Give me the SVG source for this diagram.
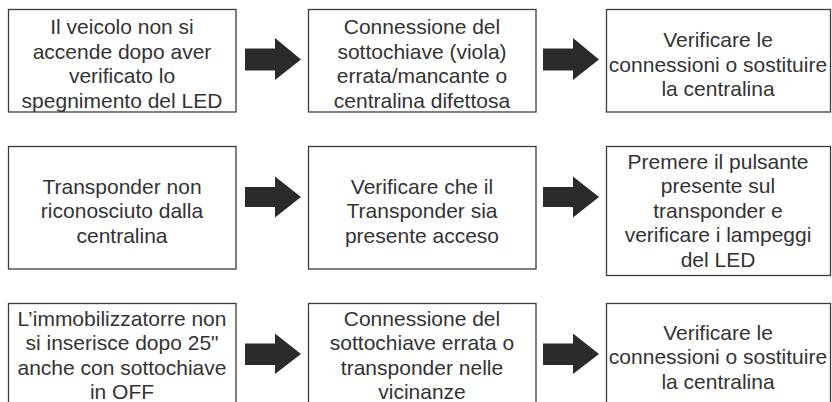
<svg xmlns="http://www.w3.org/2000/svg" width="832" height="402" viewBox="0 0 832 402">
<style>
.box{fill:#fff;stroke:#3c3c3c;stroke-width:1.3}
.t{font-family:"Liberation Sans",Arial,sans-serif;font-size:21px;fill:#333;text-anchor:middle}
.arr{fill:#2b2b2b}
</style>
<rect width="832" height="402" fill="#fff"/>
<g id="r1b1"><rect class="box" x="8.5" y="9.5" width="227.5" height="102.5"/>
<text class="t"><tspan x="122" y="34">Il veicolo non si</tspan><tspan x="122" y="58.6">accende dopo aver</tspan><tspan x="122" y="83.2">verificato lo</tspan><tspan x="122" y="107.8">spegnimento del LED</tspan></text></g>
<g id="r1b2"><rect class="box" x="308.5" y="9.5" width="227.5" height="102.5"/>
<text class="t"><tspan x="422" y="34">Connessione del</tspan><tspan x="422" y="58.6">sottochiave (viola)</tspan><tspan x="422" y="83.2">errata/mancante o</tspan><tspan x="422" y="107.8">centralina difettosa</tspan></text></g>
<g id="r1b3"><rect class="box" x="606.5" y="9.5" width="224" height="102.5"/>
<text class="t"><tspan x="718" y="47">Verificare le</tspan><tspan x="718" y="71.6">connessioni o sostituire</tspan><tspan x="718" y="96.2">la centralina</tspan></text></g>
<g id="r2b1"><rect class="box" x="8.5" y="146.5" width="227.5" height="122.5"/>
<text class="t"><tspan x="122" y="193.5">Transponder non</tspan><tspan x="122" y="218.1">riconosciuto dalla</tspan><tspan x="122" y="242.7">centralina</tspan></text></g>
<g id="r2b2"><rect class="box" x="308.5" y="146.5" width="227.5" height="122.5"/>
<text class="t"><tspan x="422" y="193.5">Verificare che il</tspan><tspan x="422" y="218.1">Transponder sia</tspan><tspan x="422" y="242.7">presente acceso</tspan></text></g>
<g id="r2b3"><rect class="box" x="606.5" y="146.5" width="224" height="129"/>
<text class="t"><tspan x="718" y="168.5">Premere il pulsante</tspan><tspan x="718" y="193.1">presente sul</tspan><tspan x="718" y="217.7">transponder e</tspan><tspan x="718" y="242.3">verificare i lampeggi</tspan><tspan x="718" y="266.9">del LED</tspan></text></g>
<g id="r3b1"><rect class="box" x="8.5" y="303.5" width="227.5" height="110"/>
<text class="t"><tspan x="122" y="325.5">L’immobilizzatorre non</tspan><tspan x="122" y="350.1">si inserisce dopo 25"</tspan><tspan x="122" y="374.7">anche con sottochiave</tspan><tspan x="122" y="399.3">in OFF</tspan></text></g>
<g id="r3b2"><rect class="box" x="308.5" y="303.5" width="227.5" height="110"/>
<text class="t"><tspan x="422" y="325.5">Connessione del</tspan><tspan x="422" y="350.1">sottochiave errata o</tspan><tspan x="422" y="374.7">transponder nelle</tspan><tspan x="422" y="399.3">vicinanze</tspan></text></g>
<g id="r3b3"><rect class="box" x="606.5" y="303.5" width="224" height="110"/>
<text class="t"><tspan x="718" y="339.5">Verificare le</tspan><tspan x="718" y="364.1">connessioni o sostituire</tspan><tspan x="718" y="388.7">la centralina</tspan></text></g>
<g id="connectors">
<polygon class="arr" points="245,48.5 275,48.5 275,38 301,59.5 275,80 275,70.5 245,70.5"/>
<polygon class="arr" points="543,48.5 573,48.5 573,38 599,59.5 573,80 573,70.5 543,70.5"/>
<polygon class="arr" points="245,187 275,187 275,176.5 301,197 275,217.5 275,207 245,207"/>
<polygon class="arr" points="543,187 573,187 573,176.5 599,197 573,217.5 573,207 543,207"/>
<polygon class="arr" points="245,343.5 275,343.5 275,333.5 301,354 275,374 275,365 245,365"/>
<polygon class="arr" points="543,343.5 573,343.5 573,333.5 599,354 573,374 573,365 543,365"/>
</g>
</svg>
